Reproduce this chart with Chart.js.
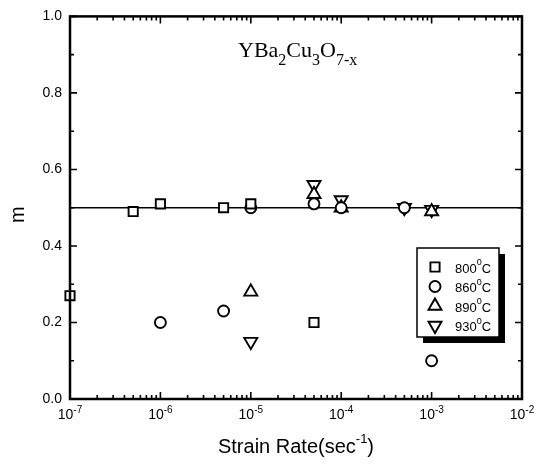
<!DOCTYPE html>
<html>
<head>
<meta charset="utf-8">
<script src="https://cdn.jsdelivr.net/npm/chart.js@4"></script>
<style>
  html, body { margin: 0; padding: 0; background: #fff; }
  #wrap { width: 540px; height: 464px; position: relative; }
</style>
</head>
<body>
<div id="wrap"><canvas id="c" width="540" height="464"></canvas></div>
<script>
// Strain rate (1/s) and strain-rate sensitivity m, one pair of arrays per temperature.
const rate800 = [1e-7, 5e-7, 1e-6, 5e-6, 1e-5, 5e-5];
const m800    = [0.27, 0.49, 0.51, 0.50, 0.51, 0.20];
const rate860 = [1e-6, 5e-6, 1e-5, 5e-5, 1e-4, 5e-4, 1e-3];
const m860    = [0.20, 0.23, 0.50, 0.51, 0.50, 0.50, 0.10];
const rate890 = [1e-5, 5e-5, 1e-4, 1e-3];
const m890    = [0.28, 0.535, 0.50, 0.49];
const rate930 = [1e-5, 5e-5, 1e-4, 5e-4, 1e-3];
const m930    = [0.15, 0.56, 0.52, 0.50, 0.495];
// fitted line m = 0.5 across the whole range
const fitRate = [1e-7, 1e-2];
const fitM    = [0.5, 0.5];

const seriesNames = ['800', '860', '890', '930'];
const xDecades = [-7, -6, -5, -4, -3, -2];
const yTicks = [0, 0.2, 0.4, 0.6, 0.8, 1.0];

const SANS = '"Liberation Sans", Arial, sans-serif';
const SERIF = '"Liberation Serif", "Times New Roman", serif';
Chart.defaults.font.family = SANS;

const pts = (xs, ys) => xs.map((x, i) => ({ x, y: ys[i] }));
const marker = (style, r, rot) => ({
  type: 'scatter', showLine: false, pointStyle: style, pointRadius: r, pointHoverRadius: r,
  pointRotation: rot || 0, borderColor: '#000', backgroundColor: 'rgba(255,255,255,1)',
  pointBorderWidth: 1.9, clip: false
});

// frame, inward ticks, x labels with superscripts, titles, legend box
const decor = {
  id: 'decor',
  afterDraw(chart) {
    const { ctx, chartArea: a } = chart;
    const xs = chart.scales.x, ys = chart.scales.y;
    ctx.save();
    ctx.strokeStyle = '#000';
    ctx.lineWidth = 2.5;
    ctx.strokeRect(a.left, a.top, a.right - a.left, a.bottom - a.top);

    ctx.lineWidth = 1.6;
    ctx.beginPath();
    for (const d of xDecades) {
      for (let k = 1; k <= 9; k++) {
        const v = k * Math.pow(10, d);
        if (v > Math.pow(10, xDecades[xDecades.length - 1])) break;
        const px = xs.getPixelForValue(v);
        const len = k === 1 ? 7 : 4;
        ctx.moveTo(px, a.bottom); ctx.lineTo(px, a.bottom - len);
        ctx.moveTo(px, a.top); ctx.lineTo(px, a.top + len);
      }
    }
    for (let i = 0; i <= 10; i++) {
      const py = ys.getPixelForValue(i / 10);
      const len = i % 2 === 0 ? 7 : 4;
      ctx.moveTo(a.left, py); ctx.lineTo(a.left + len, py);
      ctx.moveTo(a.right, py); ctx.lineTo(a.right - len, py);
    }
    ctx.stroke();

    // x tick labels 10^n
    ctx.fillStyle = '#000';
    ctx.textBaseline = 'alphabetic';
    for (const d of xDecades) {
      const px = xs.getPixelForValue(Math.pow(10, d));
      ctx.font = '14px ' + SANS;
      const w1 = ctx.measureText('10').width;
      ctx.font = '10px ' + SANS;
      const w2 = ctx.measureText(String(d)).width;
      const x0 = px - (w1 + w2) / 2;
      ctx.font = '14px ' + SANS;
      ctx.textAlign = 'left';
      ctx.fillText('10', x0, a.bottom + 20);
      ctx.font = '10px ' + SANS;
      ctx.fillText(String(d), x0 + w1, a.bottom + 14);
    }

    // axis titles
    ctx.font = '20px ' + SANS;
    const t1 = 'Strain Rate(sec', t2 = '-1', t3 = ')';
    const w1 = ctx.measureText(t1).width, w3 = ctx.measureText(t3).width;
    ctx.font = '13px ' + SANS;
    const w2 = ctx.measureText(t2).width;
    let tx = (a.left + a.right) / 2 - (w1 + w2 + w3) / 2;
    ctx.font = '20px ' + SANS;
    ctx.fillText(t1, tx, 453);
    ctx.font = '13px ' + SANS;
    ctx.fillText(t2, tx + w1, 443);
    ctx.font = '20px ' + SANS;
    ctx.fillText(t3, tx + w1 + w2, 453);

    ctx.save();
    ctx.translate(24, (a.top + a.bottom) / 2 + 7);
    ctx.rotate(-Math.PI / 2);
    ctx.textAlign = 'center';
    ctx.font = '20px ' + SANS;
    ctx.fillText('m', 0, 0);
    ctx.restore();

    // compound label
    const parts = [['Y', 0], ['Ba', 0], ['2', 1], ['Cu', 0], ['3', 1], ['O', 0], ['7-x', 1]];
    let cx = 238;
    ctx.textAlign = 'left';
    for (const [s, sub] of parts) {
      ctx.font = (sub ? '16px ' : '22px ') + SERIF;
      ctx.fillText(s, cx, sub ? 65 : 57);
      cx += ctx.measureText(s).width;
    }

    // legend with drop shadow
    const lx = 417, ly = 248, lw = 82, lh = 89;
    ctx.fillStyle = '#000';
    ctx.fillRect(lx + 6, ly + 6, lw, lh);
    ctx.fillStyle = '#fff';
    ctx.fillRect(lx, ly, lw, lh);
    ctx.lineWidth = 1.5;
    ctx.strokeRect(lx, ly, lw, lh);
    chart.data.datasets.slice(0, 4).forEach((ds, i) => {
      const yy = ly + 19 + i * 19.5;
      ctx.lineWidth = ds.pointBorderWidth;
      ctx.strokeStyle = '#000';
      ctx.fillStyle = '#fff';
      Chart.helpers.drawPoint(ctx, {
        pointStyle: ds.pointStyle, radius: ds.pointRadius, rotation: ds.pointRotation, borderWidth: ds.pointBorderWidth
      }, lx + 18, yy);
      ctx.fillStyle = '#000';
      ctx.font = '13px ' + SANS;
      ctx.textBaseline = 'middle';
      const n = seriesNames[i];
      ctx.fillText(n, lx + 38, yy + 2);
      const nw = ctx.measureText(n).width;
      ctx.font = '9px ' + SANS;
      ctx.fillText('0', lx + 38 + nw, yy - 4);
      const ow = ctx.measureText('0').width;
      ctx.font = '13px ' + SANS;
      ctx.fillText('C', lx + 38 + nw + ow, yy + 2);
      ctx.textBaseline = 'alphabetic';
    });
    ctx.restore();
  }
};

new Chart(document.getElementById('c'), {
  type: 'scatter',
  data: {
    datasets: [
      Object.assign({ label: '800°C', data: pts(rate800, m800) }, marker('rect', 6.5)),
      Object.assign({ label: '860°C', data: pts(rate860, m860) }, marker('circle', 5.5)),
      Object.assign({ label: '890°C', data: pts(rate890, m890) }, marker('triangle', 7.5)),
      Object.assign({ label: '930°C', data: pts(rate930, m930) }, marker('triangle', 7.5, 180)),
      {
        type: 'line', label: 'fit', data: pts(fitRate, fitM), borderColor: '#000', borderWidth: 1.6,
        pointRadius: 0, fill: false, order: 10
      }
    ]
  },
  options: {
    responsive: false,
    animation: false,
    devicePixelRatio: 1,
    layout: { padding: { top: 13, right: 18, left: 0, bottom: 0 } },
    plugins: { legend: { display: false }, tooltip: { enabled: false } },
    scales: {
      x: {
        type: 'logarithmic', min: 1e-7, max: 1e-2,
        grid: { display: false, drawTicks: false },
        border: { display: false },
        ticks: { display: false },
        afterFit(s) { s.height = 65; }
      },
      y: {
        min: 0, max: 1,
        grid: { display: false, drawTicks: false },
        border: { display: false },
        ticks: {
          stepSize: 0.2, padding: 8, color: '#000', font: { size: 14 },
          callback: v => yTicks.some(t => Math.abs(t - v) < 1e-9) ? v.toFixed(1) : ''
        },
        afterFit(s) { s.width = 70; }
      }
    }
  },
  plugins: [decor]
});
</script>
</body>
</html>
